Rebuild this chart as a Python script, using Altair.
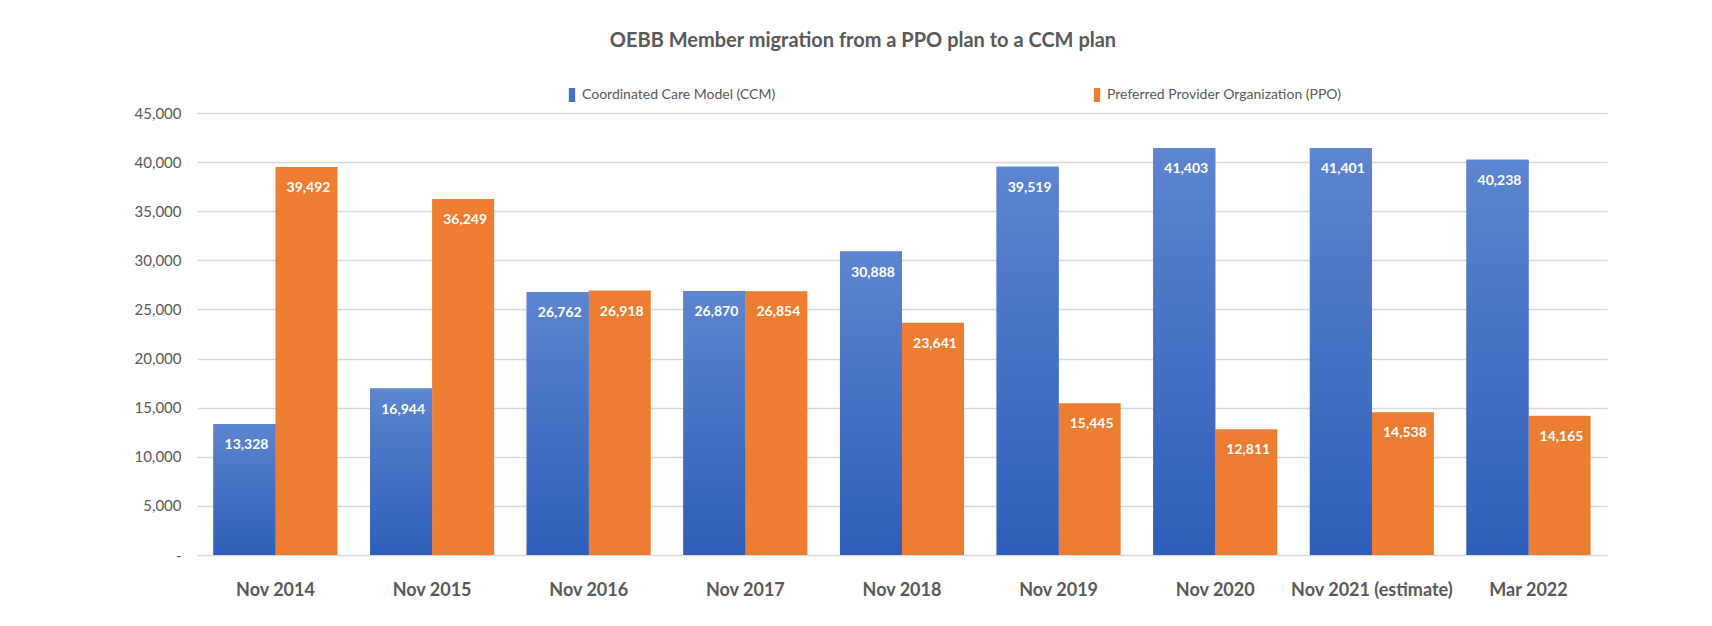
import altair as alt
import pandas as pd

categories = ["Nov 2014", "Nov 2015", "Nov 2016", "Nov 2017", "Nov 2018",
              "Nov 2019", "Nov 2020", "Nov 2021 (estimate)", "Mar 2022"]
ccm_values = [13328, 16944, 26762, 26870, 30888, 39519, 41403, 41401, 40238]
ppo_values = [39492, 36249, 26918, 26854, 23641, 15445, 12811, 14538, 14165]
series = ["Coordinated Care Model (CCM)", "Preferred Provider Organization (PPO)"]
y_ticks = [0, 5000, 10000, 15000, 20000, 25000, 30000, 35000, 40000, 45000]

rows = []
for c, a, b in zip(categories, ccm_values, ppo_values):
    rows.append({"period": c, "plan": series[0], "members": a})
    rows.append({"period": c, "plan": series[1], "members": b})
df = pd.DataFrame(rows)

FONT = "Lato"
GREY = "#595959"

x_enc = alt.X("period:N", sort=categories, title=None,
              scale=alt.Scale(paddingInner=0.208, paddingOuter=0.105),
              axis=alt.Axis(labelFont=FONT, labelFontSize=18, labelFontWeight="bold",
                            labelColor=GREY, labelPadding=26, ticks=False, domain=False,
                            labelAngle=0, grid=False))
xoff_enc = alt.XOffset("plan:N", sort=series, scale=alt.Scale(domain=series, paddingInner=0, paddingOuter=0))
y_enc = alt.Y("members:Q", title=None,
              scale=alt.Scale(domain=[0, 45000], nice=False),
              axis=alt.Axis(values=y_ticks, labelFont=FONT, labelFontSize=15, labelColor=GREY,
                            labelPadding=16, ticks=False, domain=False,
                            gridColor="#D9D9D9", gridWidth=1.5,
                            labelExpr="datum.value == 0 ? '-' : format(datum.value, ',')"))

base = alt.Chart(df)

bars = base.mark_bar().encode(
    x=x_enc, xOffset=xoff_enc, y=y_enc,
    color=alt.Color("plan:N", sort=series,
                    scale=alt.Scale(domain=series, range=["#4472C4", "#ED7D31"]),
                    legend=alt.Legend(title=None, orient="none", direction="horizontal",
                                      legendX=368, legendY=-25,
                                      labelFont=FONT, labelFontSize=14, labelColor=GREY,
                                      symbolType="M-0.45,-1H0.45V1H-0.45Z", symbolSize=196,
                                      symbolStrokeWidth=0, labelOffset=3,
                                      columnPadding=314, labelLimit=400)),
)

grad = alt.Gradient(gradient="linear", x1=0, y1=0, x2=0, y2=1,
                    stops=[alt.GradientStop(offset=0, color="#5D85D0"),
                           alt.GradientStop(offset=1, color="#2E5EB8")])
blue = base.transform_filter(alt.datum.plan == series[0]).mark_bar(color=grad).encode(
    x=x_enc, xOffset=xoff_enc, y=y_enc,
)

labels = base.mark_text(font=FONT, fontSize=14, fontWeight="bold", color="white",
                        baseline="middle", dy=21, dx=2).encode(
    x=x_enc, xOffset=xoff_enc, y=y_enc,
    text=alt.Text("members:Q", format=","),
)

chart = alt.layer(bars, blue, labels).properties(
    width=1410, height=442,
    title=alt.Title("OEBB Member migration from a PPO plan to a CCM plan",
                    font=FONT, fontSize=20, fontWeight="bold", color=GREY,
                    anchor="middle", dx=-39, offset=37),
    autosize=alt.AutoSizeParams(type="none"),
    padding={"left": 189, "top": 105, "right": 97, "bottom": 60},
).configure(background="white").configure_view(stroke=None)

chart.save("out.html", embed_options={"renderer": "svg", "actions": False})
